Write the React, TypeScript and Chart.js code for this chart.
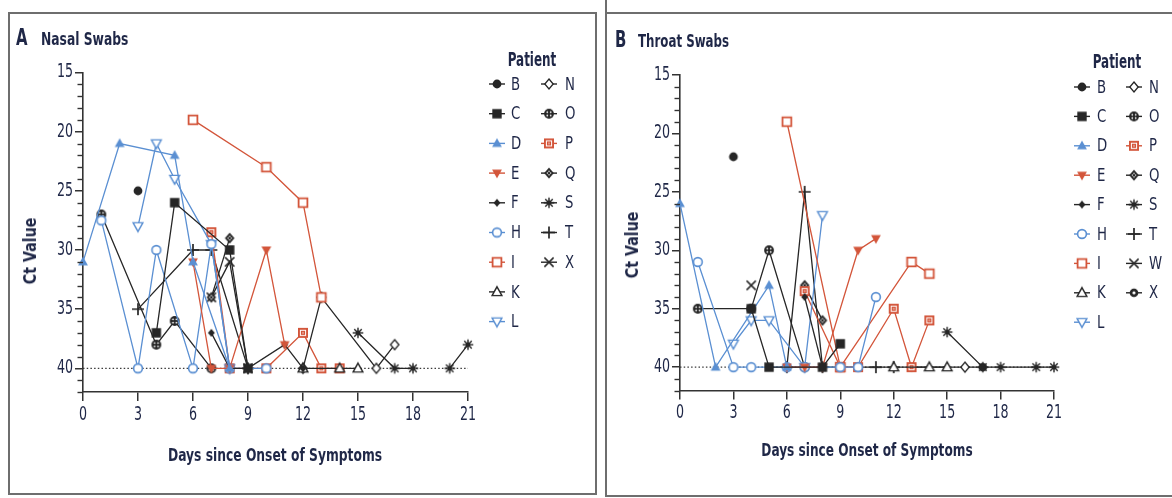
import React, { useEffect, useRef } from 'react';
import { Chart, registerables } from 'chart.js';
Chart.register(...registerables);

const BLUE = '#5a8fd2';
const RED = '#d3553a';
const BLACK = '#262626';
const TEXT = '#1f2747';
const FONT = '"Liberation Sans Narrow", "Arial Narrow", "DejaVu Sans Condensed", "Liberation Sans", sans-serif';
const NARROW = 0.74;

const xTickValues = [0, 3, 6, 9, 12, 15, 18, 21];
const yTickValues = [15, 20, 25, 30, 35, 40];
const yMinorValues = [16, 17, 18, 19, 21, 22, 23, 24, 26, 27, 28, 29, 31, 32, 33, 34, 36, 37, 38, 39, 41, 42];
const detectionLimit = 40;

type Pt = [number, number | null];

// ---------- Panel A: nasal swabs (day, Ct) ----------
const nasal_B: Pt[] = [[3, 25]];
const nasal_C: Pt[] = [[4, 37], [5, 26], [8, 30], [9, 40]];
const nasal_D: Pt[] = [[0, 31], [2, 21], [5, 22], [6, 31], [8, 40]];
const nasal_E: Pt[] = [[6, 31], [7, 40], [8, 40], [10, 30], [11, 38]];
const nasal_F: Pt[] = [[7, 37], [8, 40], [9, 40], [11, 38], [12, 40]];
const nasal_H: Pt[] = [[1, 27.5], [3, 40], [4, 30], [6, 40], [7, 29.5], [8, 40], [10, 40]];
const nasal_I: Pt[] = [[6, 19], [10, 23], [12, 26], [13, 34]];
const nasal_K: Pt[] = [[12, 40], [14, 40], [15, 40]];
const nasal_L: Pt[] = [[3, 28], [4, 21], [5, 24], [7, 29.5], [8, 40]];
const nasal_N: Pt[] = [[12, 40], [13, 34], [16, 40], [17, 38]];
const nasal_O: Pt[] = [[1, 27], [4, 38], [5, 36], [7, 40]];
const nasal_P: Pt[] = [[7, 28.5], [8, 40], [10, 40], [12, 37], [13, 40], [14, 40]];
const nasal_Q: Pt[] = [[7, 34], [8, 29]];
const nasal_S: Pt[] = [[15, 37], [17, 40], [18, 40], [19, null], [20, 40], [21, 38]];
const nasal_T: Pt[] = [[3, 35], [6, 30], [7, 30], [9, 40]];
const nasal_X: Pt[] = [[7, 34], [8, 31], [9, 40]];

// ---------- Panel B: throat swabs (day, Ct) ----------
const throat_B: Pt[] = [[3, 22]];
const throat_C: Pt[] = [[4, 35], [5, 40], [8, 40], [9, 38]];
const throat_D: Pt[] = [[0, 26], [2, 40], [5, 33], [6, 40]];
const throat_E: Pt[] = [[6, 40], [7, 40], [8, 40], [10, 30], [11, 29]];
const throat_F: Pt[] = [[7, 34], [8, 40]];
const throat_H: Pt[] = [[1, 31], [3, 40], [4, 40], [6, 40], [7, 40], [9, 40], [10, 40], [11, 34]];
const throat_I: Pt[] = [[6, 19], [9, 40], [13, 31], [14, 32]];
const throat_K: Pt[] = [[12, 40], [14, 40], [15, 40]];
const throat_L: Pt[] = [[3, 38], [4, 36], [5, 36], [7, 40], [8, 27]];
const throat_N: Pt[] = [[16, 40]];
const throat_O: Pt[] = [[1, 35], [4, 35], [5, 30], [7, 40]];
const throat_P: Pt[] = [[7, 33.5], [9, 40], [10, 40], [12, 35], [13, 40], [14, 36]];
const throat_Q: Pt[] = [[7, 33], [8, 36]];
const throat_S: Pt[] = [[15, 37], [17, 40], [18, 40], [20, 40], [21, 40]];
const throat_T: Pt[] = [[6, 40], [7, 25], [8, 40], [11, 40], [12, 40]];
const throat_W: Pt[] = [[4, 33]];
const throat_X: Pt[] = [[13, 40], [17, 40]];

const nasalPatients = ['B', 'C', 'D', 'E', 'F', 'H', 'I', 'K', 'L', 'N', 'O', 'P', 'Q', 'S', 'T', 'X'];
const throatPatients = ['B', 'C', 'D', 'E', 'F', 'H', 'I', 'K', 'L', 'N', 'O', 'P', 'Q', 'S', 'T', 'W', 'X'];

const nasalSeries: Record<string, Pt[]> = {
  B: nasal_B, C: nasal_C, D: nasal_D, E: nasal_E, F: nasal_F, H: nasal_H, I: nasal_I, K: nasal_K,
  L: nasal_L, N: nasal_N, O: nasal_O, P: nasal_P, Q: nasal_Q, S: nasal_S, T: nasal_T, X: nasal_X,
};
const throatSeries: Record<string, Pt[]> = {
  B: throat_B, C: throat_C, D: throat_D, E: throat_E, F: throat_F, H: throat_H, I: throat_I, K: throat_K,
  L: throat_L, N: throat_N, O: throat_O, P: throat_P, Q: throat_Q, S: throat_S, T: throat_T, W: throat_W, X: throat_X,
};

type Sty = { color: string; kind: string };
const baseStyle: Record<string, Sty> = {
  B: { color: BLACK, kind: 'dot' },
  C: { color: BLACK, kind: 'square' },
  D: { color: BLUE, kind: 'tri' },
  E: { color: RED, kind: 'triDown' },
  F: { color: BLACK, kind: 'diamondSmall' },
  H: { color: BLUE, kind: 'ring' },
  I: { color: RED, kind: 'box' },
  K: { color: BLACK, kind: 'triOpen' },
  L: { color: BLUE, kind: 'triDownOpen' },
  N: { color: BLACK, kind: 'diamondOpen' },
  O: { color: BLACK, kind: 'ringPattern' },
  P: { color: RED, kind: 'boxPattern' },
  Q: { color: BLACK, kind: 'diamondPattern' },
  S: { color: BLACK, kind: 'star' },
  T: { color: BLACK, kind: 'plus' },
  W: { color: BLACK, kind: 'cross' },
  X: { color: BLACK, kind: 'cross' },
};
const throatOverride: Record<string, Sty> = { X: { color: BLACK, kind: 'ringDot' } };

function makeMarker(kind: string, color: string): HTMLCanvasElement {
  const S = 16;
  const c = document.createElement('canvas');
  c.width = S; c.height = S;
  const g = c.getContext('2d')!;
  g.translate(S / 2, S / 2);
  g.fillStyle = color; g.strokeStyle = color;
  const tri = (down: boolean) => {
    g.beginPath();
    if (!down) { g.moveTo(0, -5.2); g.lineTo(4.9, 3.6); g.lineTo(-4.9, 3.6); }
    else { g.moveTo(0, 5.2); g.lineTo(4.9, -3.6); g.lineTo(-4.9, -3.6); }
    g.closePath();
  };
  const diamond = (h: number, w: number) => {
    g.beginPath(); g.moveTo(0, -h); g.lineTo(w, 0); g.lineTo(0, h); g.lineTo(-w, 0); g.closePath();
  };
  const whiteFill = () => { g.save(); g.fillStyle = '#fff'; g.fill(); g.restore(); };
  switch (kind) {
    case 'dot': g.beginPath(); g.arc(0, 0, 4.4, 0, Math.PI * 2); g.fill(); break;
    case 'square': g.fillRect(-4.7, -4.7, 9.4, 9.4); break;
    case 'tri': tri(false); g.fill(); break;
    case 'triDown': tri(true); g.fill(); break;
    case 'diamondSmall': diamond(4, 3.4); g.fill(); break;
    case 'ring': g.beginPath(); g.arc(0, 0, 4.4, 0, Math.PI * 2); whiteFill(); g.lineWidth = 1.6; g.stroke(); break;
    case 'box': g.beginPath(); g.rect(-4.4, -4.4, 8.8, 8.8); whiteFill(); g.lineWidth = 1.8; g.stroke(); break;
    case 'triOpen': tri(false); whiteFill(); g.lineWidth = 1.4; g.stroke(); break;
    case 'triDownOpen': tri(true); whiteFill(); g.lineWidth = 1.4; g.stroke(); break;
    case 'diamondOpen': diamond(5, 4.2); whiteFill(); g.lineWidth = 1.3; g.stroke(); break;
    case 'ringPattern': {
      g.beginPath(); g.arc(0, 0, 4.9, 0, Math.PI * 2); g.fill();
      g.fillStyle = '#fff';
      [[-1.7, -1.7], [1.7, -1.7], [-1.7, 1.7], [1.7, 1.7]].forEach(([a, b]) => { g.beginPath(); g.arc(a, b, 0.9, 0, Math.PI * 2); g.fill(); });
      break;
    }
    case 'boxPattern': {
      g.fillRect(-5, -5, 10, 10);
      g.strokeStyle = '#fff'; g.lineWidth = 1;
      g.strokeRect(-2.6, -2.6, 5.2, 5.2);
      g.fillStyle = '#fff'; g.fillRect(-0.6, -0.6, 1.2, 1.2);
      break;
    }
    case 'diamondPattern': {
      diamond(5.6, 4.8); g.fill();
      g.fillStyle = '#fff';
      [[0, -1.8], [0, 1.8], [-1.6, 0], [1.6, 0]].forEach(([a, b]) => { g.beginPath(); g.arc(a, b, 0.75, 0, Math.PI * 2); g.fill(); });
      break;
    }
    case 'star': {
      g.lineWidth = 1.4;
      for (let i = 0; i < 4; i++) {
        const a = (i * Math.PI) / 4;
        g.beginPath(); g.moveTo(Math.cos(a) * 5.3, Math.sin(a) * 5.3); g.lineTo(-Math.cos(a) * 5.3, -Math.sin(a) * 5.3); g.stroke();
      }
      g.beginPath(); g.arc(0, 0, 2.4, 0, Math.PI * 2); g.fill();
      break;
    }
    case 'plus': {
      g.lineWidth = 1.7;
      g.beginPath(); g.moveTo(-6, 0); g.lineTo(6, 0); g.moveTo(0, -6); g.lineTo(0, 6); g.stroke();
      break;
    }
    case 'cross': {
      g.lineWidth = 1.5;
      g.beginPath(); g.moveTo(-4.6, -4.6); g.lineTo(4.6, 4.6); g.moveTo(-4.6, 4.6); g.lineTo(4.6, -4.6); g.stroke();
      break;
    }
    case 'ringDot': {
      g.beginPath(); g.arc(0, 0, 4.3, 0, Math.PI * 2); g.fill();
      g.fillStyle = '#fff'; g.beginPath(); g.arc(0, 0, 1.6, 0, Math.PI * 2); g.fill();
      break;
    }
  }
  return c;
}

function narrowText(ctx: CanvasRenderingContext2D, text: string, x: number, y: number, sx: number) {
  ctx.save();
  ctx.translate(x, y);
  ctx.scale(sx, 1);
  ctx.fillText(text, 0, 0);
  ctx.restore();
}

type PanelCfg = {
  canvasLeft: number;
  canvasWidth: number;
  areaLeft: number;
  areaRight: number;
  areaTop: number;
  areaBottom: number;
  patients: string[];
  series: Record<string, Pt[]>;
  override: Record<string, Sty>;
  legend: { title: [number, number]; col1: [number, number]; col2: [number, number]; y0: number; dy: number; perCol: number };
};

const H = 498;

function Panel({ cfg }: { cfg: PanelCfg }) {
  const ref = useRef<HTMLCanvasElement>(null);
  useEffect(() => {
    const canvas = ref.current!;
    const styleOf = (p: string) => cfg.override[p] || baseStyle[p];
    const markers: Record<string, HTMLCanvasElement> = {};
    cfg.patients.forEach((p) => { const s = styleOf(p); markers[p] = makeMarker(s.kind, s.color); });

    const datasets: any[] = cfg.patients.map((p) => {
      const s = styleOf(p);
      const pts = cfg.series[p];
      return {
        label: p,
        data: pts.map(([x, y]) => ({ x, y })),
        borderColor: s.color,
        backgroundColor: s.color,
        borderWidth: 1.3,
        pointStyle: markers[p],
        pointRadius: 5,
        pointHoverRadius: 5,
        showLine: pts.length > 1,
        spanGaps: false,
        tension: 0,
        clip: false,
      };
    });
    datasets.push({
      label: 'limit',
      data: [{ x: 0, y: detectionLimit }, { x: 21, y: detectionLimit }],
      borderColor: '#3a3a3a',
      borderWidth: 1.2,
      borderDash: [1.5, 2.2],
      pointRadius: 0,
      clip: false,
    });

    const axisExtras = {
      id: 'axisExtras',
      afterDraw(chart: any) {
        const ctx = chart.ctx;
        const xs = chart.scales.x;
        const ys = chart.scales.y;
        const { left, bottom } = chart.chartArea;
        ctx.save();
        ctx.strokeStyle = '#333';
        ctx.lineWidth = 1.4;
        yMinorValues.forEach((v) => {
          const py = Math.round(ys.getPixelForValue(v)) + 0.5;
          ctx.beginPath(); ctx.moveTo(left - 5.5, py); ctx.lineTo(left, py); ctx.stroke();
        });
        ctx.fillStyle = TEXT;
        ctx.font = `19px ${FONT}`;
        ctx.textBaseline = 'middle';
        ctx.textAlign = 'right';
        yTickValues.forEach((v) => narrowText(ctx, String(v), left - 10, ys.getPixelForValue(v), NARROW));
        ctx.textAlign = 'center';
        xTickValues.forEach((v) => narrowText(ctx, String(v), xs.getPixelForValue(v), bottom + 23, NARROW));
        ctx.restore();
      },
    };

    const legendPlugin = {
      id: 'patientLegend',
      afterDraw(chart: any) {
        const ctx = chart.ctx;
        const L = cfg.legend;
        ctx.save();
        ctx.fillStyle = TEXT;
        ctx.font = `bold 19px ${FONT}`;
        ctx.textAlign = 'center';
        ctx.textBaseline = 'middle';
        narrowText(ctx, 'Patient', L.title[0], L.title[1], 0.7);
        ctx.font = `18px ${FONT}`;
        ctx.textAlign = 'left';
        cfg.patients.forEach((p, i) => {
          const col = i < L.perCol ? L.col1 : L.col2;
          const row = i < L.perCol ? i : i - L.perCol;
          const yy = L.y0 + row * L.dy;
          const s = styleOf(p);
          ctx.strokeStyle = s.color;
          ctx.lineWidth = 1.4;
          ctx.beginPath(); ctx.moveTo(col[0] - 8, yy); ctx.lineTo(col[0] + 8, yy); ctx.stroke();
          const m = markers[p];
          ctx.drawImage(m, col[0] - m.width / 2, yy - m.height / 2);
          ctx.fillStyle = TEXT;
          narrowText(ctx, p, col[1], yy + 1, 0.82);
        });
        ctx.restore();
      },
    };

    const chart = new Chart(canvas, {
      type: 'line',
      data: { datasets },
      plugins: [axisExtras, legendPlugin],
      options: {
        responsive: false,
        maintainAspectRatio: false,
        animation: false,
        events: [],
        layout: { padding: { left: 0, right: cfg.canvasWidth - cfg.areaRight, top: cfg.areaTop, bottom: 0 } },
        plugins: { legend: { display: false }, tooltip: { enabled: false } },
        scales: {
          x: {
            type: 'linear',
            min: 0,
            max: 21,
            afterBuildTicks: (s: any) => { s.ticks = xTickValues.map((v) => ({ value: v })); },
            afterFit: (s: any) => { s.height = H - cfg.areaBottom; },
            grid: { drawOnChartArea: false, drawTicks: true, tickLength: 9, color: '#333', lineWidth: 1.5 },
            border: { display: true, color: '#333', width: 1.6 },
            ticks: { display: false },
          },
          y: {
            type: 'linear',
            reverse: true,
            min: 15,
            max: 42,
            afterBuildTicks: (s: any) => { s.ticks = yTickValues.map((v) => ({ value: v })); },
            afterFit: (s: any) => { s.width = cfg.areaLeft; },
            grid: { drawOnChartArea: false, drawTicks: true, tickLength: 8, color: '#333', lineWidth: 1.5 },
            border: { display: true, color: '#333', width: 1.6 },
            ticks: { display: false },
          },
        },
      } as any,
    });
    return () => chart.destroy();
  }, [cfg]);
  return (
    <canvas
      ref={ref}
      width={cfg.canvasWidth}
      height={H}
      style={{ position: 'absolute', left: cfg.canvasLeft, top: 0, width: cfg.canvasWidth, height: H }}
    />
  );
}

const panelA: PanelCfg = {
  canvasLeft: 0,
  canvasWidth: 600,
  areaLeft: 83,
  areaRight: 468,
  areaTop: 72.5,
  areaBottom: 392,
  patients: nasalPatients,
  series: nasalSeries,
  override: {},
  legend: { title: [532, 61], col1: [497, 511], col2: [549, 565], y0: 84, dy: 29.7, perCol: 9 },
};

const panelB: PanelCfg = {
  canvasLeft: 600,
  canvasWidth: 572,
  areaLeft: 80,
  areaRight: 454,
  areaTop: 75,
  areaBottom: 390.5,
  patients: throatPatients,
  series: throatSeries,
  override: throatOverride,
  legend: { title: [517, 63], col1: [482, 497], col2: [534, 549], y0: 87, dy: 29.4, perCol: 9 },
};

const abs = (s: React.CSSProperties): React.CSSProperties => ({ position: 'absolute', ...s });
const BORDER = '#6e6e6e';

export default function App() {
  useEffect(() => {
    document.body.style.margin = '0';
  }, []);
  const titleFont: React.CSSProperties = { fontFamily: FONT, fontWeight: 'bold', color: TEXT, whiteSpace: 'nowrap', lineHeight: 1 };
  return (
    <div style={{ position: 'absolute', left: 0, top: 0, width: 1172, height: 498, background: '#fff', overflow: 'hidden' }}>
      {/* panel frames */}
      <div style={abs({ left: 8, top: 12, width: 589, height: 483, border: `2px solid ${BORDER}`, boxSizing: 'border-box' })} />
      <div style={abs({ left: 605, top: 0, width: 2, height: 497, background: BORDER })} />
      <div style={abs({ left: 605, top: 12, width: 567, height: 2, background: BORDER })} />
      <div style={abs({ left: 605, top: 495, width: 567, height: 2, background: BORDER })} />

      <Panel cfg={panelA} />
      <Panel cfg={panelB} />

      {/* panel titles */}
      <div style={abs({ ...titleFont, left: 16, top: 26, fontSize: 23, transform: 'scaleX(0.72)', transformOrigin: 'left top' })}>A</div>
      <div style={abs({ ...titleFont, left: 41, top: 30, fontSize: 18, transform: 'scaleX(0.76)', transformOrigin: 'left top' })}>Nasal Swabs</div>
      <div style={abs({ ...titleFont, left: 615, top: 28, fontSize: 23, transform: 'scaleX(0.72)', transformOrigin: 'left top' })}>B</div>
      <div style={abs({ ...titleFont, left: 638, top: 32, fontSize: 18, transform: 'scaleX(0.73)', transformOrigin: 'left top' })}>Throat Swabs</div>

      {/* axis titles */}
      <div style={abs({ ...titleFont, left: 30, top: 251, fontSize: 18, transform: 'translate(-50%, -50%) rotate(-90deg) scaleX(0.88)' })}>Ct Value</div>
      <div style={abs({ ...titleFont, left: 632, top: 245, fontSize: 18, transform: 'translate(-50%, -50%) rotate(-90deg) scaleX(0.88)' })}>Ct Value</div>
      <div style={abs({ ...titleFont, left: 275, top: 455, fontSize: 18, transform: 'translate(-50%, -50%) scaleX(0.76)' })}>Days since Onset of Symptoms</div>
      <div style={abs({ ...titleFont, left: 867, top: 450, fontSize: 18, transform: 'translate(-50%, -50%) scaleX(0.75)' })}>Days since Onset of Symptoms</div>
    </div>
  );
}
